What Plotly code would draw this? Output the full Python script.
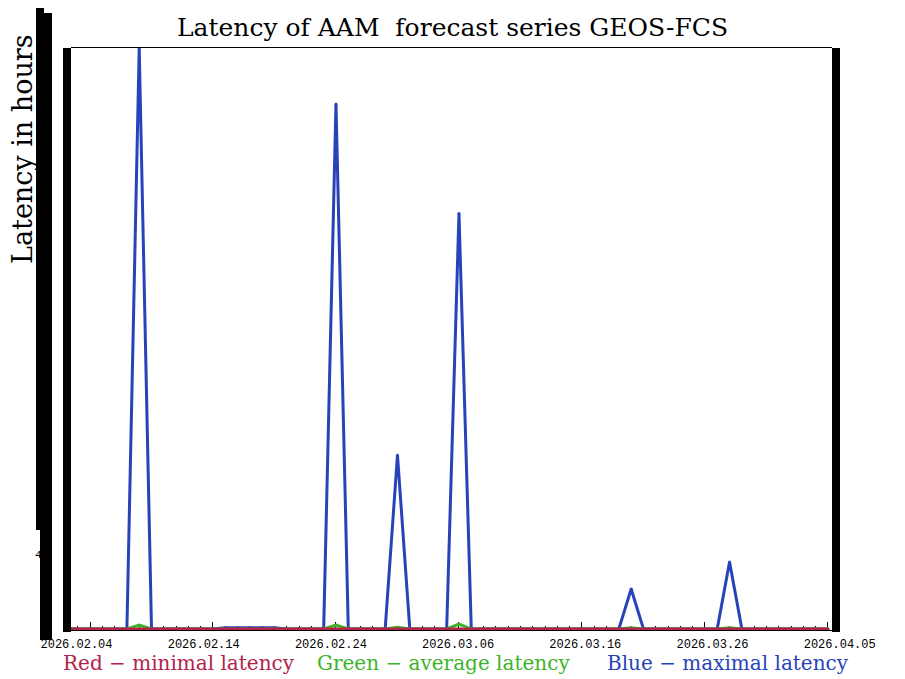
import pandas as pd
import plotly.graph_objects as go

# daily samples, 2026-02-02 .. 2026-04-05
dates = pd.date_range("2026-02-02", "2026-04-05", freq="D")

lat_max = [
    0, 0, 0, 0, 0, 0, 31.0, 0, 0, 0, 0, 0, 0,
    0.06, 0.06, 0.06, 0.06, 0.06, 0, 0, 0, 0, 28.05, 0, 0, 0, 0, 9.28,
    0, 0, 0, 0, 22.19, 0, 0, 0, 0, 0, 0, 0, 0, 0, 0, 0, 0, 0,
    2.13, 0, 0, 0, 0, 0, 0, 0, 3.57, 0, 0, 0, 0, 0, 0, 0, 0,
]
lat_avg = [
    0, 0, 0, 0, 0, 0, 0.2, 0, 0, 0, 0, 0, 0,
    0.03, 0.03, 0.03, 0.03, 0.03, 0, 0, 0, 0, 0.2, 0, 0, 0, 0, 0.08,
    0, 0, 0, 0, 0.25, 0, 0, 0, 0, 0, 0, 0, 0, 0, 0, 0, 0, 0,
    0.06, 0, 0, 0, 0, 0, 0, 0, 0.06, 0, 0, 0, 0, 0, 0, 0, 0,
]
lat_min = [
    0, 0, 0, 0, 0, 0, 0, 0, 0, 0, 0, 0, 0,
    0.02, 0.02, 0.02, 0.02, 0.02, 0, 0, 0, 0, 0, 0, 0, 0, 0, 0,
    0, 0, 0, 0, 0, 0, 0, 0, 0, 0, 0, 0, 0, 0, 0, 0, 0, 0,
    0, 0, 0, 0, 0, 0, 0, 0, 0, 0, 0, 0, 0, 0, 0, 0, 0,
]
label_dates = pd.date_range("2026-02-04", "2026-04-05", freq="10D")
label_text = [d.strftime("%Y.%m.%d") for d in label_dates]

RED = "#b2234a"
GREEN = "#3cb42a"
BLUE = "#2743b9"

# page body has an 8px margin, so the figure is drawn 8px in from the corner
W, H = 897, 671
L, R, T, B = 22, 30, 40, 49
pw, ph = W - L - R, H - T - B


def px(x):  # screen pixel -> paper
    return (x - 8 - L) / pw


def py(y):
    return (H - B - (y - 8)) / ph


base = pd.Timestamp("2026-02-04")


def day(d):
    return base + pd.Timedelta(hours=24 * d)


fig = go.Figure()
for vals, col in [(lat_max, BLUE), (lat_avg, GREEN), (lat_min, RED)]:
    fig.add_trace(
        go.Scatter(
            x=dates, y=vals, mode="lines+markers",
            line=dict(color=col, width=3),
            marker=dict(color=col, size=3),
            hoverinfo="skip", showlegend=False,
        )
    )
# carrier for the shifted date labels
fig.add_trace(
    go.Scatter(x=label_dates, y=[0] * len(label_dates), xaxis="x2", mode="markers",
               marker=dict(opacity=0), hoverinfo="skip", showlegend=False)
)

fig.update_layout(
    width=W, height=H,
    margin=dict(l=L, r=R, t=T, b=B),
    paper_bgcolor="white",
    plot_bgcolor="rgba(0,0,0,0)",
    xaxis=dict(
        type="date",
        domain=[px(71), px(832)],
        range=[day(-1.545), day(60.33)],
        tickvals=label_dates,
        showticklabels=False,
        ticks="inside", ticklen=8, tickwidth=1, tickcolor="black",
        minor=dict(ticks="inside", ticklen=4, tickcolor="black", dtick=86400000,
                   tick0="2026-02-04"),
        showline=True, linecolor="black", linewidth=1, mirror=True,
        showgrid=False, zeroline=False, layer="below traces",
    ),
    xaxis2=dict(
        type="date",
        domain=[0, 1],
        anchor="y",
        range=[day((8 + L - 76.5) / 12.72), day((8 + W - R - 76.5) / 12.72)],
        tickvals=label_dates, ticktext=label_text,
        tickfont=dict(family="Liberation Mono", size=12, color="black"),
        ticklabelstandoff=5,
        ticks="", showline=False, showgrid=False, zeroline=False,
    ),
    yaxis=dict(
        range=[-0.06, 31.04], anchor="x",
        showticklabels=False, ticks="", showline=False,
        showgrid=False, zeroline=False,
    ),
)

bars = [
    (63, 48, 71, 632),
    (832, 48, 840, 632),
    (36, 8, 44, 13),
    (36, 13, 52, 530),
    (40, 530, 52, 640),
]
for x0, y0, x1, y1 in bars:
    fig.add_shape(type="rect", xref="paper", yref="paper",
                  x0=px(x0), x1=px(x1), y0=py(y0), y1=py(y1),
                  fillcolor="black", line=dict(width=0))

serif = "DejaVu Serif"


def label(text, x, y, size, color="black", family=serif, angle=0):
    fig.add_annotation(text=text, xref="paper", yref="paper", x=px(x), y=py(y),
                       xanchor="center", yanchor="middle", textangle=angle,
                       showarrow=False, font=dict(family=family, size=size, color=color))


label("Latency of AAM  forecast series GEOS-FCS", 452, 28, 25)
label("Latency in hours", 22, 149, 27, angle=-90)
label("4", 38, 555, 11, family="Liberation Mono")
label("Red − minimal latency", 179, 663, 20, RED)
label("Green − average latency", 443, 663, 20, GREEN)
label("Blue − maximal latency", 728, 663, 20, BLUE)

fig.write_html("out.html")
